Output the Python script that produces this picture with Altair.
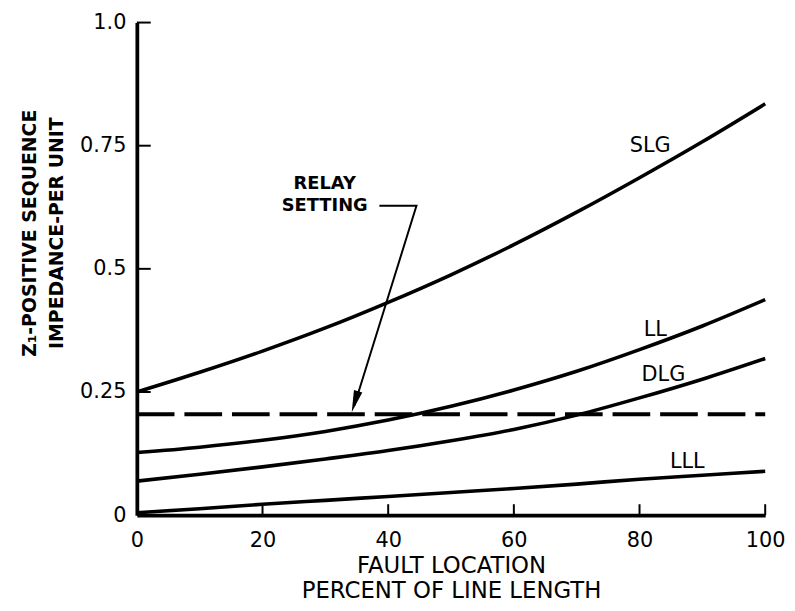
import altair as alt
import pandas as pd

# ---- data ----
fault_pct = [0, 10, 20, 30, 40, 50, 60, 70, 80, 90, 100]
slg = [0.25, 0.29, 0.333, 0.38, 0.432, 0.488, 0.549, 0.615, 0.685, 0.758, 0.835]
ll = [0.127, 0.138, 0.152, 0.17, 0.193, 0.221, 0.254, 0.292, 0.336, 0.384, 0.4375]
dlg = [0.069, 0.083, 0.098, 0.114, 0.131, 0.151, 0.174, 0.203, 0.238, 0.276, 0.318]
lll = [0.005, 0.013, 0.022, 0.03, 0.038, 0.046, 0.054, 0.063, 0.073, 0.081, 0.089]

relay_x = [0, 100]
relay_y = [0.205, 0.205]

curve_labels = ["SLG", "LL", "DLG", "LLL"]
curve_label_x = [81.7, 82.5, 83.8, 87.6]
curve_label_y = [0.749, 0.376, 0.285, 0.108]

note_lines = ["RELAY", "SETTING"]
note_x = [29.9, 29.9]
note_y = [0.673, 0.627]

leader_x = [38.6, 44.5, 34.6]
leader_y = [0.628, 0.628, 0.222]
arrow_tip_x = [34.2]
arrow_tip_y = [0.209]

x_label_values = [0, 20, 40, 60, 80, 100]
x_tick_values = [20, 40, 60, 80, 100]
y_label_values = [0, 0.25, 0.5, 0.75, 1.0]
y_tick_values = [0.25, 0.5, 0.75, 1.0]

x_title = ["FAULT LOCATION", "PERCENT OF LINE LENGTH"]
y_title = ["Z\u2081-POSITIVE SEQUENCE", "IMPEDANCE-PER UNIT"]

# ---- tables ----
series = {"SLG": slg, "LL": ll, "DLG": dlg, "LLL": lll}
curves = pd.DataFrame(
    [{"x": x, "y": v, "series": name} for name, vals in series.items() for x, v in zip(fault_pct, vals)]
)
relay = pd.DataFrame({"x": relay_x, "y": relay_y})
labels = pd.DataFrame({"x": curve_label_x, "y": curve_label_y, "t": curve_labels})
notes = pd.DataFrame({"x": note_x, "y": note_y, "t": note_lines})
leader = pd.DataFrame({"x": leader_x, "y": leader_y, "i": list(range(len(leader_x)))})
tip = pd.DataFrame({"x": arrow_tip_x, "y": arrow_tip_y})
xt = pd.DataFrame({"x": x_tick_values})
yt = pd.DataFrame({"y": y_tick_values})

W, H = 634, 497
FONT = "DejaVu Sans"

xs = alt.Scale(domain=[0, 100], nice=False, zero=False)
ys = alt.Scale(domain=[0, 1], nice=False)

x_axis = alt.Axis(
    values=x_label_values, format="d", ticks=False, grid=False,
    domainWidth=3.8, domainColor="black",
    labelFont=FONT, labelFontSize=21, labelColor="black", labelPadding=15,
    labelFlush=False, labelOverlap=False,
    title=x_title, titleFont=FONT, titleFontSize=23, titleFontWeight="normal",
    titleColor="black", titleLineHeight=25, titleY=40, titleBaseline="top",
)
y_axis = alt.Axis(
    values=y_label_values, format=".2~f",
    labelExpr="datum.value == 1 ? '1.0' : datum.label",
    ticks=False, grid=False, domainWidth=3.8, domainColor="black",
    labelFont=FONT, labelFontSize=21, labelColor="black", labelPadding=11,
    labelFlush=False, labelOverlap=False,
    title=y_title, titleFont=FONT, titleFontSize=19, titleFontWeight="bold",
    titleColor="black", titleLineHeight=27, titleAngle=270,
    titleX=-108, titleY=212, titleAlign="center", titleBaseline="middle",
)

X = alt.X("x:Q", scale=xs, axis=x_axis)
Y = alt.Y("y:Q", scale=ys, axis=y_axis)

lines = alt.Chart(curves).mark_line(
    interpolate="monotone", color="black", strokeWidth=3.6
).encode(x=X, y=Y, detail="series:N")

relay_line = alt.Chart(relay).mark_line(
    color="black", strokeWidth=4, strokeDash=[38, 10]
).encode(x=X, y=Y)

label_text = alt.Chart(labels).mark_text(
    font=FONT, fontSize=21, color="black", align="center", baseline="middle"
).encode(x=X, y=Y, text="t:N")

note_text = alt.Chart(notes).mark_text(
    font=FONT, fontSize=18, fontWeight="bold", color="black", align="center", baseline="middle"
).encode(x=X, y=Y, text="t:N")

leader_line = alt.Chart(leader).mark_line(color="black", strokeWidth=2).encode(
    x=X, y=Y, order="i:O"
)

arrow_head = alt.Chart(tip).mark_point(
    shape="M0,0 L0.9,4.5 L-0.9,4.5 Z", filled=True, color="black",
    size=96, angle=197, opacity=1, strokeWidth=0
).encode(x=X, y=Y)

x_ticks = alt.Chart(xt).mark_rule(color="black", strokeWidth=2).encode(
    x=X, y=alt.value(H), y2=alt.value(H - 11)
)
y_ticks = alt.Chart(yt).mark_rule(color="black", strokeWidth=2).encode(
    y=Y, x=alt.value(0), x2=alt.value(14)
)

chart = alt.layer(
    lines, relay_line, leader_line, arrow_head, label_text, note_text, x_ticks, y_ticks
).properties(
    width=W, height=H,
    padding={"left": 130, "top": 12, "right": 22, "bottom": 89},
    autosize=alt.AutoSizeParams(type="none"),
    background="white",
).configure_view(stroke=None)

chart.save("out.html", embed_options={"renderer": "svg", "actions": False})
